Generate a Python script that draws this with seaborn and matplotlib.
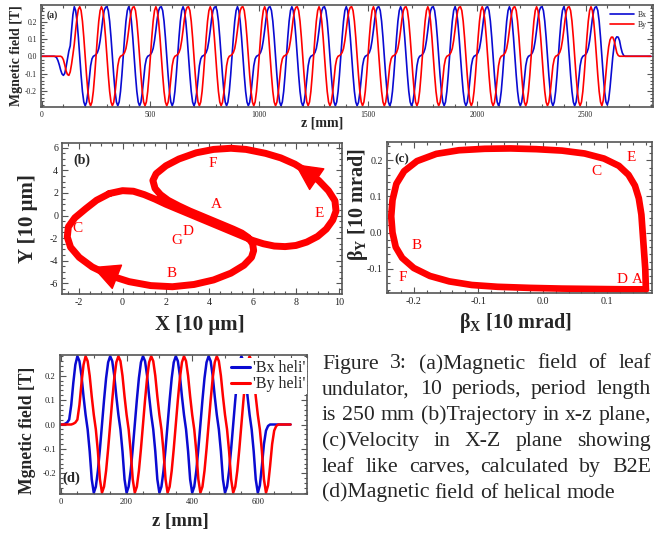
import numpy as np
import pandas as pd
import seaborn as sns
import matplotlib
matplotlib.use("Agg")
import matplotlib.pyplot as plt
from matplotlib.ticker import AutoMinorLocator, MultipleLocator

# ---------------- (a) leaf undulator field, samples every 6.25 mm ----------------
Z_STEP = 6.25
A_PERIOD = [0.285, 0.263, 0.202, 0.109, 0.0, -0.109, -0.202, -0.263,
            -0.285, -0.263, -0.202, -0.109, 0.0, 0.109, 0.202, 0.263,
            0.285, 0.263, 0.202, 0.109, 0.0, -0.109, -0.202, -0.263,
            -0.285, -0.265, -0.21, -0.13, -0.055, -0.015, 0.0, 0.004,
            0.01, 0.022, 0.045, 0.09, 0.15, 0.215, 0.262, 0.282]
BX_LEAD = [0.0] * 10 + [-0.002, -0.008, -0.025, -0.05, -0.08, -0.102, -0.11,
                        -0.098, -0.06, -0.015, 0.03, 0.06, 0.15, 0.24]
BX_TAIL = [0.285, 0.263, 0.202, 0.109, 0.0, -0.109, -0.202, -0.263, -0.28,
           -0.25, -0.18, -0.09, -0.005, 0.06, 0.1, 0.112, 0.11, 0.09, 0.05,
           0.02, 0.005, 0.0]
BY_LEAD = [0.0] * 15 + [-0.005, -0.02, -0.05, -0.085, -0.105, -0.11, -0.09,
                        -0.045, 0.01, 0.07, 0.15, 0.22, 0.27]
BY_TAIL = [-0.285, -0.255, -0.185, -0.095, -0.01, 0.055, 0.095, 0.11, 0.11,
           0.09, 0.055, 0.02, 0.005, 0.0]
Z_A_END = 2800

# ---------------- (d) helical mode field, samples every 6.25 mm ----------------
D_PERIOD = [0.28, 0.26, 0.2, 0.115, 0.04, -0.02, -0.11, -0.225,
            -0.28, -0.255, -0.19, -0.1, 0.0, 0.1, 0.19, 0.255]
BXD_LEAD = [0.0, 0.0, 0.003, 0.008, 0.02, 0.08, 0.17, 0.245]
BYD_LEAD = [0.0, 0.0, 0.0, 0.0, 0.0, 0.0, 0.003, 0.008, 0.02, 0.08, 0.17, 0.245]
BXD_TAIL = [-0.28, -0.25, -0.17, -0.08, -0.025, -0.006, 0.0]
BYD_TAIL = [-0.28, -0.25, -0.17, -0.08, -0.025, -0.006, 0.0]
Z_D_END = 700

# ---------------- (b) trajectory in x-y [10 um] ----------------
TRAJ_X = [-0.6, 0.0, 0.5, 1.0, 1.5, 2.0, 2.5, 3.0, 3.5, 4.0, 4.5, 5.0, 5.5, 6.0,
          6.5, 7.0, 7.5, 8.0, 8.5, 9.0, 9.4, 9.7, 9.85, 9.8, 9.5, 9.05, 8.45,
          7.95, 7.3, 6.6, 5.7, 5.0, 4.2, 3.4, 2.6, 2.0, 1.55, 1.4, 1.5, 1.75,
          2.1, 2.6, 3.1, 3.6, 4.1, 4.6, 5.1, 5.5, 5.8, 6.0, 6.05, 5.95, 5.6,
          5.0, 4.2, 3.3, 2.3, 1.3, 0.3, -0.6, -1.4, -2.0, -2.4, -2.55, -2.5,
          -2.2, -1.7, -1.2, -0.6]
TRAJ_Y = [1.95, 2.2, 2.15, 1.85, 1.45, 1.0, 0.6, 0.2, -0.2, -0.6, -1.0, -1.4,
          -1.8, -2.2, -2.5, -2.7, -2.75, -2.65, -2.35, -1.85, -1.2, -0.4, 0.4,
          1.3, 2.2, 3.1, 3.95, 4.55, 5.1, 5.5, 5.85, 5.95, 5.85, 5.55, 5.0,
          4.4, 3.7, 3.1, 2.4, 1.85, 1.35, 0.85, 0.4, 0.0, -0.4, -0.8, -1.2,
          -1.55, -1.95, -2.5, -3.1, -3.7, -4.4, -5.1, -5.7, -6.1, -6.3, -6.2,
          -5.85, -5.3, -4.55, -3.7, -2.8, -1.9, -1.0, -0.2, 0.6, 1.35, 1.95]
ARROW_B = [(25, 27), (58, 60)]          # (tail, tip) indices along the path
LETTERS_B = [("F", 4.18, 4.62), ("A", 4.31, 0.99), ("E", 9.08, 0.19),
             ("C", -2.09, -1.13), ("G", 2.49, -2.17), ("D", 3.03, -1.43),
             ("B", 2.26, -5.12)]

# ---------------- (c) velocity loop [10 mrad] ----------------
BETA_X = [0.160, 0.159, 0.157, 0.155, 0.153, 0.149, 0.143, 0.133, 0.118, 0.095,
          0.065, 0.03, -0.01, -0.05, -0.09, -0.13, -0.165, -0.195, -0.215,
          -0.227, -0.233, -0.235, -0.233, -0.228, -0.218, -0.2, -0.175, -0.145,
          -0.11, -0.07, -0.02, 0.03, 0.08, 0.13, 0.160]
BETA_Y = [-0.157, -0.10, -0.05, 0.0, 0.05, 0.095, 0.13, 0.16, 0.185, 0.205,
          0.219, 0.227, 0.231, 0.233, 0.232, 0.228, 0.218, 0.198, 0.17, 0.135,
          0.09, 0.045, 0.0, -0.04, -0.07, -0.098, -0.12, -0.135, -0.145, -0.15,
          -0.153, -0.155, -0.156, -0.157, -0.157]
LETTERS_C = [("E", 0.138, 0.207), ("C", 0.084, 0.170), ("B", -0.196, -0.035),
             ("F", -0.217, -0.125), ("D", 0.123, -0.129), ("A", 0.146, -0.129)]

CAPTION = ["Figure 3: (a)Magnetic field of leaf",
           "undulator, 10 periods, period length",
           "is 250 mm (b)Trajectory in x-z plane,",
           "(c)Velocity in X-Z plane showing",
           "leaf like carves, calculated by B2E",
           "(d)Magnetic field of helical mode"]

BLUE = "#0a0ad2"
RED = "#ff0000"
FRAME = "#555555"
SERIF = "Liberation Serif"

# ---------------- build series ----------------
z_a = np.arange(0, Z_A_END + 1e-9, Z_STEP)
bx_a = BX_LEAD + A_PERIOD[16:] + A_PERIOD * 9 + BX_TAIL
bx_a = bx_a + [0.0] * (len(z_a) - len(bx_a))
by_a = BY_LEAD + A_PERIOD * 9 + A_PERIOD[:24] + BY_TAIL
by_a = by_a + [0.0] * (len(z_a) - len(by_a))

z_d = np.arange(0, Z_D_END + 1e-9, Z_STEP)
bx_d = BXD_LEAD + D_PERIOD * 5 + D_PERIOD[:8] + BXD_TAIL
bx_d = bx_d + [0.0] * (len(z_d) - len(bx_d))
by_d = BYD_LEAD + D_PERIOD * 5 + D_PERIOD[:8] + BYD_TAIL
by_d = by_d + [0.0] * (len(z_d) - len(by_d))

df_a = pd.DataFrame({"z": np.concatenate([z_a, z_a]),
                     "B": bx_a + by_a,
                     "comp": ["Bx"] * len(z_a) + ["By"] * len(z_a)})
df_d = pd.DataFrame({"z": np.concatenate([z_d, z_d]),
                     "B": bx_d + by_d,
                     "comp": ["'Bx heli'"] * len(z_d) + ["'By heli'"] * len(z_d)})
df_b = pd.DataFrame({"X": TRAJ_X, "Y": TRAJ_Y})
df_c = pd.DataFrame({"bx": BETA_X, "by": BETA_Y})

# ---------------- style ----------------
sns.set_theme(style="ticks")
plt.rcParams["font.family"] = [SERIF, "DejaVu Serif"]
plt.rcParams["axes.unicode_minus"] = False
plt.rcParams["mathtext.fontset"] = "custom"
plt.rcParams["mathtext.rm"] = SERIF
plt.rcParams["mathtext.it"] = SERIF + ":italic"
plt.rcParams["mathtext.bf"] = SERIF + ":bold"

W, H = 659, 536
fig = plt.figure(figsize=(W / 100, H / 100), dpi=100)


def box(x0, y0, x1, y1):
    return [x0 / W, 1 - y1 / H, (x1 - x0) / W, (y1 - y0) / H]


ax_a = fig.add_axes(box(41, 5, 653, 107))
ax_b = fig.add_axes(box(62.3, 143.3, 342.3, 294.3))
ax_c = fig.add_axes(box(386.7, 142.3, 651.7, 293.3))
ax_d = fig.add_axes(box(60, 355, 307, 494))


def style(ax, xmaj, ymaj, xn, yn, ls, fmt_y=None):
    ax.xaxis.set_major_locator(MultipleLocator(xmaj))
    ax.yaxis.set_major_locator(MultipleLocator(ymaj))
    ax.xaxis.set_minor_locator(AutoMinorLocator(xn))
    ax.yaxis.set_minor_locator(AutoMinorLocator(yn))
    ax.tick_params(which="both", direction="in", top=True, right=True,
                   color=FRAME, labelcolor="#222222", labelsize=ls, width=0.8,
                   pad=3)
    ax.tick_params(which="major", length=4)
    ax.tick_params(which="minor", length=2.2)
    for s in ax.spines.values():
        s.set_color(FRAME)
        s.set_linewidth(1.2)
    if fmt_y:
        ax.yaxis.set_major_formatter(fmt_y)


# ---- (a)
sns.lineplot(data=df_a, x="z", y="B", hue="comp", palette=[BLUE, RED],
             ax=ax_a, linewidth=1.2, sort=False, estimator=None)
ax_a.set_xlim(-3, 2810)
ax_a.set_ylim(-0.292, 0.295)
style(ax_a, 500, 0.1, 5, 5, 5.5, "{x:.1f}")
ax_a.set_xlabel("z [mm]", fontsize=10, fontweight="bold")
ax_a.set_ylabel("Mgnetic field [T]", fontsize=10, fontweight="bold")
ax_a.xaxis.set_label_coords(0.46, -0.09)
ax_a.yaxis.set_label_coords(-0.029, 0.5)
ax_a.legend(loc="upper right", frameon=False, fontsize=5.5, handlelength=3.2,
            borderaxespad=0.4, labelspacing=0.2, handletextpad=0.5)
ax_a.text(0.018, 0.90, "(a)", transform=ax_a.transAxes, fontsize=7,
          fontweight="bold", ha="center", va="center")

# ---- (b)
sns.lineplot(data=df_b, x="X", y="Y", ax=ax_b, color=RED, linewidth=5.0,
             sort=False, estimator=None)
for i0, i1 in ARROW_B:
    ax_b.annotate("", xy=(TRAJ_X[i1], TRAJ_Y[i1]),
                  xytext=(TRAJ_X[i0], TRAJ_Y[i0]),
                  arrowprops=dict(arrowstyle="-|>,head_length=0.9,head_width=0.45",
                                  color=RED, lw=1.0, mutation_scale=20,
                                  shrinkA=0, shrinkB=0))
for s, x, y in LETTERS_B:
    ax_b.text(x, y, s, color=RED, fontsize=11, ha="center", va="center")
ax_b.set_xlim(-2.78, 10.14)
ax_b.set_ylim(-6.97, 6.39)
style(ax_b, 2, 2, 4, 4, 7.2)
ax_b.set_xlabel("X [10 μm]", fontsize=15, fontweight="bold")
ax_b.set_ylabel("Y [10 μm]", fontsize=15, fontweight="bold")
ax_b.xaxis.set_label_coords(0.49, -0.135)
ax_b.yaxis.set_label_coords(-0.085, 0.5)
ax_b.text(0.069, 0.889, "(b)", transform=ax_b.transAxes, fontsize=10,
          fontweight="bold", ha="center", va="center")

# ---- (c)
sns.lineplot(data=df_c, x="bx", y="by", ax=ax_c, color=RED, linewidth=4.8,
             sort=False, estimator=None)
for s, x, y in LETTERS_C:
    ax_c.text(x, y, s, color=RED, fontsize=11, ha="center", va="center")
ax_c.set_xlim(-0.242, 0.169)
ax_c.set_ylim(-0.168, 0.25)
style(ax_c, 0.1, 0.1, 5, 5, 7.2, "{x:.1f}")
ax_c.xaxis.set_major_formatter("{x:.1f}")
ax_c.set_xlabel(r"$\mathbf{\beta_X}$ [10 mrad]", fontsize=14.5, fontweight="bold")
ax_c.set_ylabel(r"$\mathbf{\beta_Y}$ [10 mrad]", fontsize=14.5, fontweight="bold")
ax_c.xaxis.set_label_coords(0.484, -0.115)
ax_c.yaxis.set_label_coords(-0.062, 0.585)
ax_c.text(0.057, 0.889, "(c)", transform=ax_c.transAxes, fontsize=9.5,
          fontweight="bold", ha="center", va="center")

# ---- (d)
sns.lineplot(data=df_d, x="z", y="B", hue="comp", palette=[BLUE, RED],
             ax=ax_d, linewidth=1.8, sort=False, estimator=None)
ax_d.set_xlim(-3, 750)
ax_d.set_ylim(-0.285, 0.285)
style(ax_d, 200, 0.1, 4, 5, 6.2, "{x:.1f}")
ax_d.set_xlabel("z [mm]", fontsize=13.5, fontweight="bold")
ax_d.set_ylabel("Mgnetic field [T]", fontsize=12.7, fontweight="bold")
ax_d.xaxis.set_label_coords(0.486, -0.14)
ax_d.yaxis.set_label_coords(-0.097, 0.46)
leg = ax_d.legend(loc="upper right", bbox_to_anchor=(1.0, 0.975), frameon=True,
                  fancybox=False, edgecolor="none", facecolor="white",
                  framealpha=1, fontsize=11.5, handlelength=1.2, borderpad=0.12,
                  labelspacing=0.0, handletextpad=0.15, borderaxespad=0)
for h in leg.get_lines():
    h.set_linewidth(2.2)
ax_d.text(0.045, 0.113, "(d)", transform=ax_d.transAxes, fontsize=10.5,
          fontweight="bold", ha="center", va="center")

# ---------------- caption (justified) ----------------
fig.canvas.draw()
renderer = fig.canvas.get_renderer()
x_left, x_right = 322.0, 651.0
for k, line in enumerate(CAPTION):
    words = line.split(" ")
    base = 368.5 + 25.8 * k
    ts = [fig.text(0, 1 - base / H, w, fontsize=15.7, family=SERIF,
                   va="baseline", ha="left") for w in words]
    ws = [t.get_window_extent(renderer).width for t in ts]
    if k < len(CAPTION) - 1:
        gap = (x_right - x_left - sum(ws)) / (len(words) - 1)
    else:
        gap = 5.3
    x = x_left
    for t, w in zip(ts, ws):
        t.set_x(x / W)
        x += w + gap

fig.savefig("out.png", dpi=100)
